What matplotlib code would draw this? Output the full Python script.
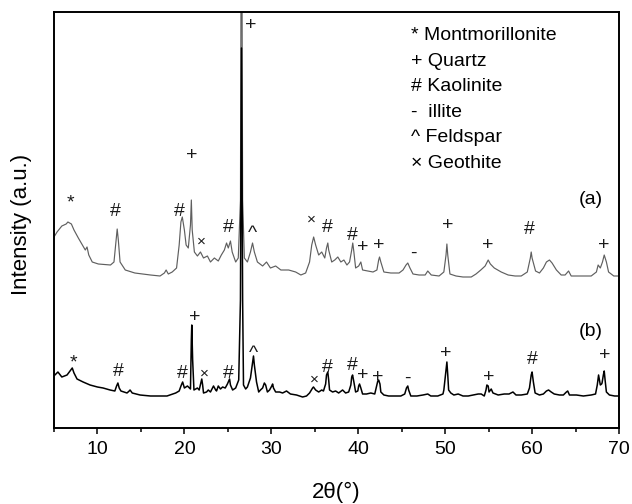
import matplotlib
matplotlib.use("Agg")
import matplotlib.pyplot as plt
from matplotlib.ticker import MultipleLocator

plt.rcParams['font.family'] = ['Liberation Sans', 'DejaVu Sans']

# ---- pattern (a): 2theta and intensity (a.u.) ----
a_theta = [5.0, 5.35, 5.9, 6.4, 6.6, 7.0, 7.3, 7.8, 8.2, 8.6, 8.8, 9.0, 9.4, 10.1, 11.5, 11.9,
           12.15, 12.27, 12.4, 12.6, 13.2, 14.3, 16.1, 17.2, 17.7, 17.9, 18.15, 18.6, 19.1, 19.4,
           19.6, 19.76, 20.0, 20.2, 20.45, 20.7, 20.8, 20.9, 21.15, 21.5, 21.85, 22.2, 22.65, 23.0,
           23.45, 23.9, 24.25, 24.6, 24.85, 25.05, 25.3, 25.5, 25.9, 26.2, 26.45, 26.57, 26.7, 26.9,
           27.25, 27.6, 27.84, 28.05, 28.4, 29.0, 29.45, 29.9, 30.5, 31.1, 32.0, 32.8, 33.4, 33.95,
           34.4, 34.65, 34.87, 35.1, 35.45, 35.8, 36.15, 36.35, 36.5, 36.6, 36.95, 37.3, 37.65, 38.0,
           38.35, 38.7, 39.0, 39.25, 39.37, 39.5, 39.7, 40.05, 40.3, 40.5, 41.1, 41.7, 42.15, 42.35,
           42.45, 42.6, 42.95, 43.75, 44.7, 45.15, 45.5, 45.7, 45.95, 46.3, 47.0, 47.7, 48.0, 48.4,
           49.3, 49.85, 50.1, 50.2, 50.3, 50.55, 51.25, 52.05, 53.0, 53.55, 54.1, 54.6, 54.95, 55.2,
           55.65, 56.45, 57.25, 58.05, 58.75, 59.45, 59.8, 59.9, 60.0, 60.4, 60.85, 61.3, 61.65, 62.0,
           62.3, 62.8, 63.35, 63.8, 64.2, 64.5, 65.7, 66.8, 67.4, 67.6, 67.85, 68.1, 68.3, 68.55,
           68.8, 69.4, 70.0]
a_int = [191, 196, 202, 204, 206, 204, 198, 190, 184, 178, 181, 173, 166, 164, 163, 166,
         188, 199, 188, 166, 158, 155, 153, 152, 155, 158, 154, 156, 160, 183,
         206, 211, 198, 183, 180, 203, 228, 198, 176, 172, 176, 170, 172, 166,
         170, 167, 173, 178, 185, 180, 187, 176, 166, 170, 228, 628, 228, 170,
         166, 176, 185, 176, 166, 162, 166, 160, 162, 158, 158, 156, 153, 155,
         166, 183, 191, 183, 173, 176, 170, 180, 185, 178, 166, 168, 171, 166,
         168, 163, 166, 178, 185, 176, 160, 162, 166, 158, 157, 156, 158, 168,
         171, 166, 156, 155, 155, 158, 163, 165, 160, 154, 153, 153, 157, 153,
         152, 156, 173, 184, 173, 154, 152, 151, 151, 154, 158, 162, 168, 164,
         160, 156, 153, 152, 152, 156, 170, 176, 170, 157, 155, 160, 166, 168,
         165, 158, 153, 153, 157, 152, 152, 152, 156, 163, 160, 166, 173, 166,
         156, 152, 152]

# ---- pattern (b) ----
b_theta = [5.1, 5.45, 5.9, 6.5, 6.85, 7.1, 7.3, 7.65, 8.35, 9.15, 10.0, 10.65, 11.45, 12.0,
           12.2, 12.35, 12.5, 12.7, 13.4, 13.65, 13.75, 14.0, 14.9, 16.1, 17.2, 18.0, 19.0, 19.4,
           19.65, 19.8, 20.0, 20.35, 20.7, 20.8, 20.85, 20.95, 21.1, 21.5, 21.7, 22.0, 22.1, 22.2,
           22.55, 22.75, 23.0, 23.35, 23.6, 23.7, 23.9, 24.15, 24.4, 24.7, 24.95, 25.2, 25.3, 25.55,
           25.9, 26.25, 26.45, 26.57, 26.7, 26.8, 27.05, 27.25, 27.6, 27.85, 27.95, 28.05, 28.3,
           28.55, 28.75, 29.0, 29.2, 29.35, 29.55, 29.8, 30.05, 30.15, 30.25, 30.5, 30.95, 31.3,
           31.75, 32.2, 32.9, 33.6, 34.05, 34.4, 34.75, 34.85, 35.1, 35.45, 35.8, 36.0, 36.25,
           36.35, 36.5, 36.6, 36.7, 37.05, 37.4, 37.75, 38.2, 38.55, 38.9, 39.15, 39.25, 39.35,
           39.5, 39.7, 39.95, 40.05, 40.15, 40.3, 40.5, 40.95, 41.45, 41.9, 42.15, 42.25, 42.35,
           42.5, 42.6, 42.95, 43.5, 44.3, 44.9, 45.35, 45.55, 45.7, 45.8, 46.05, 46.75, 47.45,
           48.0, 48.35, 49.15, 49.75, 49.85, 50.1, 50.2, 50.3, 50.4, 50.65, 51.0, 51.5, 52.05,
           52.65, 53.2, 53.8, 54.15, 54.5, 54.7, 54.8, 54.95, 55.05, 55.3, 55.5, 56.1, 56.8,
           57.35, 57.8, 58.15, 58.75, 59.45, 59.7, 59.9, 60.0, 60.15, 60.35, 60.85, 61.3, 61.65,
           61.9, 62.2, 62.55, 63.15, 63.6, 63.95, 64.1, 64.3, 65.1, 65.9, 66.8, 67.3, 67.5, 67.65,
           67.75, 67.85, 68.0, 68.05, 68.2, 68.3, 68.4, 68.55, 68.9, 69.5, 70.0]
b_int = [53, 56, 51, 53, 57, 60, 55, 49, 46, 43, 41, 40, 38, 37,
         42, 45, 40, 37, 35, 37, 38, 35, 33, 32, 32, 32, 35, 37,
         43, 46, 40, 42, 39, 88, 103, 68, 38, 40, 38, 49, 43, 35,
         36, 38, 36, 42, 38, 37, 42, 39, 41, 40, 44, 49, 43, 38,
         40, 48, 128, 380, 128, 43, 39, 41, 50, 66, 72, 63, 46,
         36, 38, 40, 45, 43, 36, 38, 42, 44, 40, 36, 36, 35,
         37, 34, 33, 31, 32, 35, 40, 41, 38, 36, 38, 37, 44,
         53, 56, 48, 38, 36, 37, 35, 38, 35, 36, 43, 51, 53,
         46, 36, 37, 42, 44, 40, 34, 34, 35, 34, 43, 47, 48,
         44, 36, 33, 32, 32, 32, 34, 40, 42, 38, 32, 32, 33,
         34, 32, 32, 34, 38, 58, 66, 53, 38, 35, 33, 34, 32,
         32, 33, 34, 34, 32, 38, 43, 42, 36, 39, 35, 33, 34,
         34, 36, 33, 33, 34, 40, 53, 56, 46, 35, 33, 34, 37,
         38, 36, 34, 33, 33, 36, 37, 33, 33, 32, 33, 34, 43, 53,
         48, 43, 44, 45, 53, 57, 48, 36, 33, 32, 32]

# ---- phase markers: symbol, 2theta, height ----
a_sym = ["*", "#", "#", "+", "\u00d7", "#", "^", "+", "\u00d7", "#", "#", "+", "+", "-", "+", "+", "#", "+"]
a_pos = [6.85, 12.04, 19.42, 20.8, 21.95, 25.07, 27.84, 27.6, 34.64, 36.49, 39.37, 40.52, 42.37,
         46.29, 50.33, 54.94, 59.67, 68.2]
a_hgt = [231, 216, 216, 272, 186, 200, 201, 402, 208, 200, 192, 180, 182, 175, 203, 182, 198, 182]

b_sym = ["*", "#", "#", "+", "\u00d7", "#", "^", "\u00d7", "#", "#", "+", "+", "-", "+", "+", "#", "+"]
b_pos = [7.19, 12.38, 19.76, 21.15, 22.3, 25.07, 27.95, 34.99, 36.49, 39.37, 40.52, 42.25, 45.71,
         50.1, 55.06, 60.02, 68.32]
b_hgt = [71, 56, 55, 111, 54, 55, 80, 48, 60, 63, 52, 51, 50, 75, 51, 69, 72]

legend_lines = ["* Montmorillonite", "+ Quartz", "# Kaolinite", "-  illite", "^ Feldspar",
                "\u00d7 Geothite"]

fig = plt.figure(figsize=(6.32, 5.04), dpi=100)
ax = fig.add_axes([54/632, 1-428/504, 565/632, 416/504])

ax.plot(a_theta, a_int, color='#5f5f5f', lw=0.85)
ax.plot(b_theta, b_int, color='black', lw=1.1)

ax.set_xlim(5, 70)
ax.set_ylim(0, 416)

def offset(s):
    if s in ("*", "^"):
        return -6
    return 0

for syms, poss, hgts in ((a_sym, a_pos, a_hgt), (b_sym, b_pos, b_hgt)):
    for s, x, y in zip(syms, poss, hgts):
        fs = 11 if s == "\u00d7" else 14
        ax.text(x, y + offset(s), s, ha='center', va='center', fontsize=fs, color='#1a1a1a')

ax.text(66.8, 228, "(a)", ha='center', va='center', fontsize=14)
ax.text(66.8, 96, "(b)", ha='center', va='center', fontsize=14)

for i, t in enumerate(legend_lines):
    ax.text((411-54)/565, (428-36-25.4*i)/416, t, transform=ax.transAxes,
            ha='left', va='center', fontsize=14)

ax.xaxis.set_major_locator(MultipleLocator(10))
ax.xaxis.set_minor_locator(MultipleLocator(5))
ax.set_yticks([])
ax.tick_params(axis='x', which='major', direction='out', length=4.5, width=1.1,
               labelsize=14, pad=5)
ax.tick_params(axis='x', which='minor', direction='out', length=3, width=1.1)
ax.tick_params(top=False, right=False)
for sp in ax.spines.values():
    sp.set_linewidth(1.4)

ax.set_xlabel("2\u03b8(\u00b0)", fontsize=16)
ax.xaxis.set_label_coords(0.5, -0.156)
ax.xaxis.label.set_va('center')
ax.set_ylabel("Intensity (a.u.)", fontsize=16)
ax.yaxis.set_label_coords(-0.057, 0.49)
ax.yaxis.label.set_va('center')

fig.savefig("out.png", dpi=100)
